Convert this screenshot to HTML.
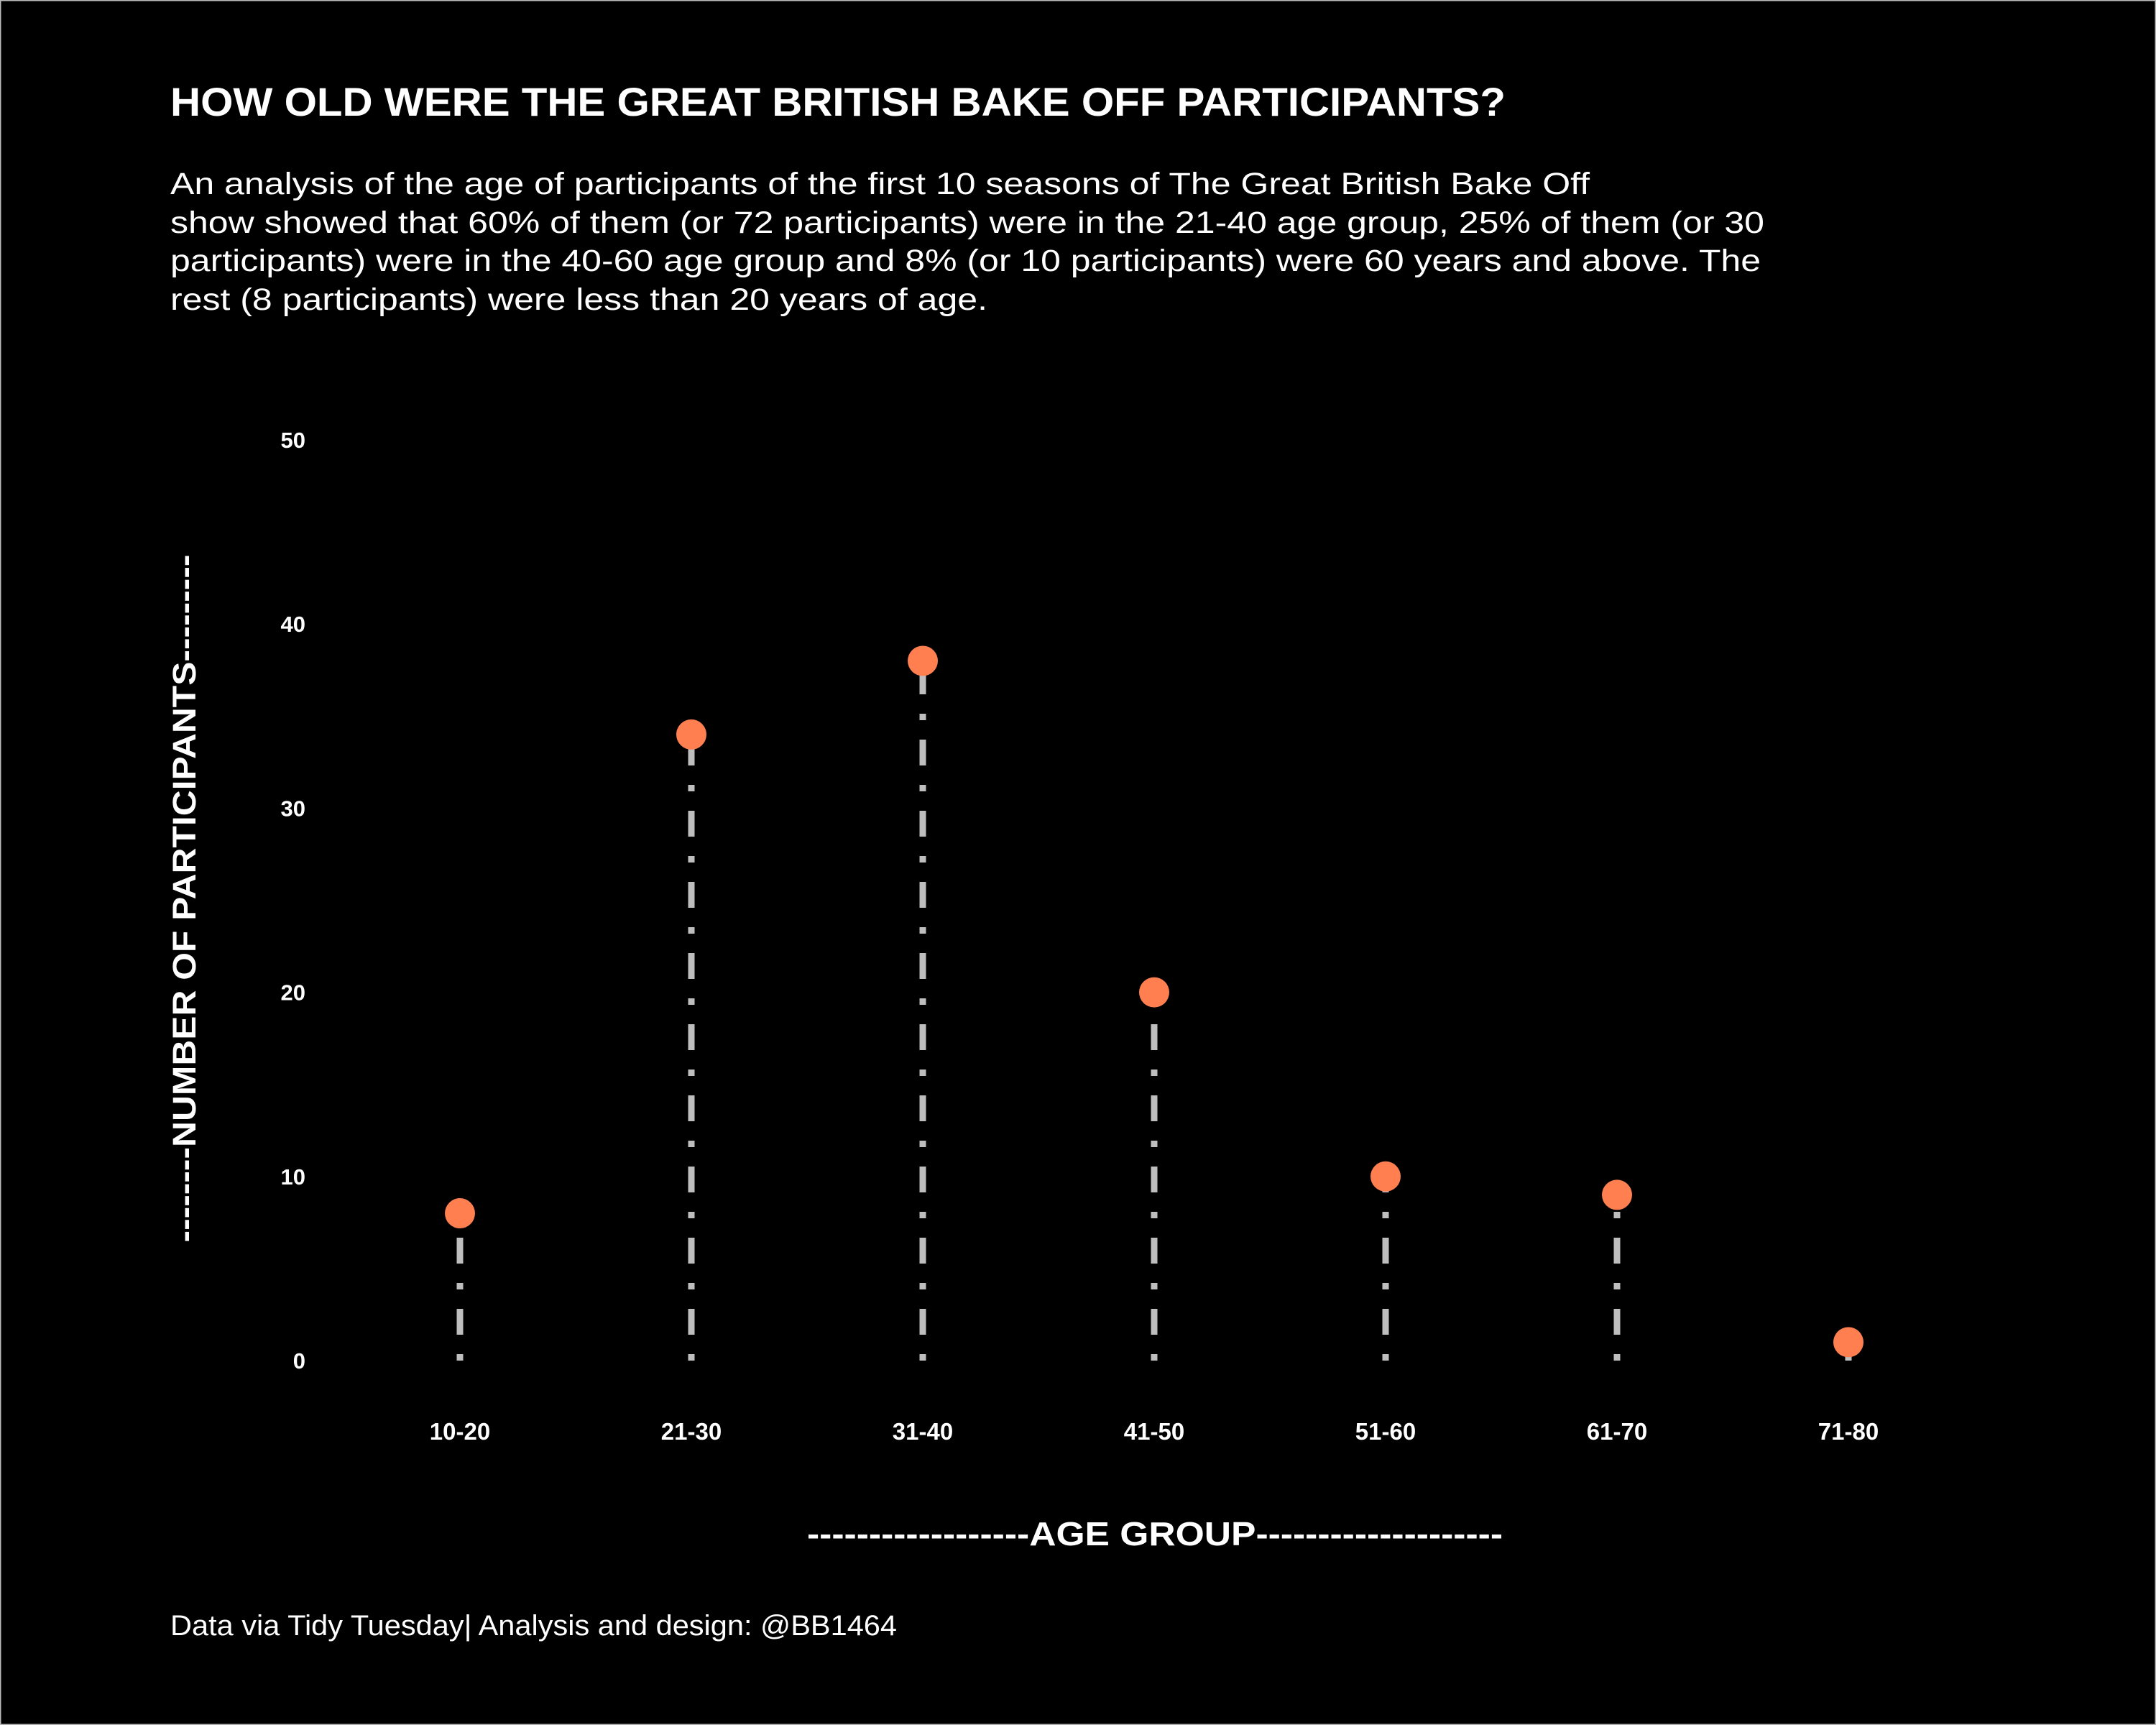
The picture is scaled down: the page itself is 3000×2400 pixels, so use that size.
<!DOCTYPE html>
<html><head><meta charset="utf-8"><style>
html,body{margin:0;padding:0;background:#000;}
svg{display:block;}
</style></head><body>
<svg id="chart" width="3000" height="2400" viewBox="0 0 3000 2400" xmlns="http://www.w3.org/2000/svg" font-family="'Liberation Sans', Arial, sans-serif">
<rect x="0" y="0" width="3000" height="2400" fill="#000" stroke="#bbb" stroke-width="3"/>
<text x="237" y="161" fill="#fff" font-size="56" font-weight="bold" textLength="1858" lengthAdjust="spacingAndGlyphs">HOW OLD WERE THE GREAT BRITISH BAKE OFF PARTICIPANTS?</text>
<g fill="#fff" font-size="43">
<text x="237" y="270" textLength="1975" lengthAdjust="spacingAndGlyphs">An analysis of the age of participants of the first 10 seasons of The Great British Bake Off</text>
<text x="237" y="324" textLength="2218" lengthAdjust="spacingAndGlyphs">show showed that 60% of them (or 72 participants) were in the 21-40 age group, 25% of them (or 30</text>
<text x="237" y="377" textLength="2213" lengthAdjust="spacingAndGlyphs">participants) were in the 40-60 age group and 8% (or 10 participants) were 60 years and above. The</text>
<text x="237" y="431" textLength="1137" lengthAdjust="spacingAndGlyphs">rest (8 participants) were less than 20 years of age.</text>
</g>
<text transform="translate(272,1250) rotate(-90)" text-anchor="middle" fill="#fff" font-size="45" font-weight="bold" textLength="957" lengthAdjust="spacingAndGlyphs">--------NUMBER OF PARTICIPANTS---------</text>
<text x="1607" y="2150" text-anchor="middle" fill="#fff" font-size="46" font-weight="bold" textLength="968" lengthAdjust="spacingAndGlyphs">------------------AGE GROUP--------------------</text>
<text x="237" y="2275" fill="#fff" font-size="40" textLength="1011" lengthAdjust="spacingAndGlyphs">Data via Tidy Tuesday| Analysis and design: @BB1464</text>
<g id="yticks"></g>
<g id="xticks"></g>
<g id="marks"></g>
</svg>
<script>
const categories = ["10-20","21-30","31-40","41-50","51-60","61-70","71-80"];
const values = [8,34,38,20,10,9,1];
const yTicks = [0,10,20,30,40,50];

const NS = "http://www.w3.org/2000/svg";
function xScale(i){ return 640 + i * 322; }
function yScale(v){ return 1893 - v * 25.62; }

const yg = document.getElementById("yticks");
yTicks.forEach(t => {
  const el = document.createElementNS(NS, "text");
  el.setAttribute("x", 425);
  el.setAttribute("y", yScale(t) + 11);
  el.setAttribute("text-anchor", "end");
  el.setAttribute("fill", "#fff");
  el.setAttribute("font-size", "31");
  el.setAttribute("font-weight", "bold");
  el.textContent = t;
  
  
  yg.appendChild(el);
});

const xg = document.getElementById("xticks");
categories.forEach((c, i) => {
  const el = document.createElementNS(NS, "text");
  el.setAttribute("x", xScale(i));
  el.setAttribute("y", 2003);
  el.setAttribute("text-anchor", "middle");
  el.setAttribute("fill", "#fff");
  el.setAttribute("font-size", "33");
  el.setAttribute("font-weight", "bold");
  el.textContent = c;
  
  
  xg.appendChild(el);
});

const mg = document.getElementById("marks");
values.forEach((v, i) => {
  const ln = document.createElementNS(NS, "line");
  ln.setAttribute("x1", xScale(i));
  ln.setAttribute("x2", xScale(i));
  ln.setAttribute("y1", yScale(0));
  ln.setAttribute("y2", yScale(v));
  ln.setAttribute("stroke", "#bebebe");
  ln.setAttribute("stroke-width", "9");
  ln.setAttribute("stroke-dasharray", "9 27 36 27");
  
  
  mg.appendChild(ln);
});
values.forEach((v, i) => {
  const c = document.createElementNS(NS, "circle");
  c.setAttribute("cx", xScale(i));
  c.setAttribute("cy", yScale(v));
  c.setAttribute("r", "21");
  c.setAttribute("fill", "#ff7f50");
  
  
  mg.appendChild(c);
});
</script>
</body></html>
